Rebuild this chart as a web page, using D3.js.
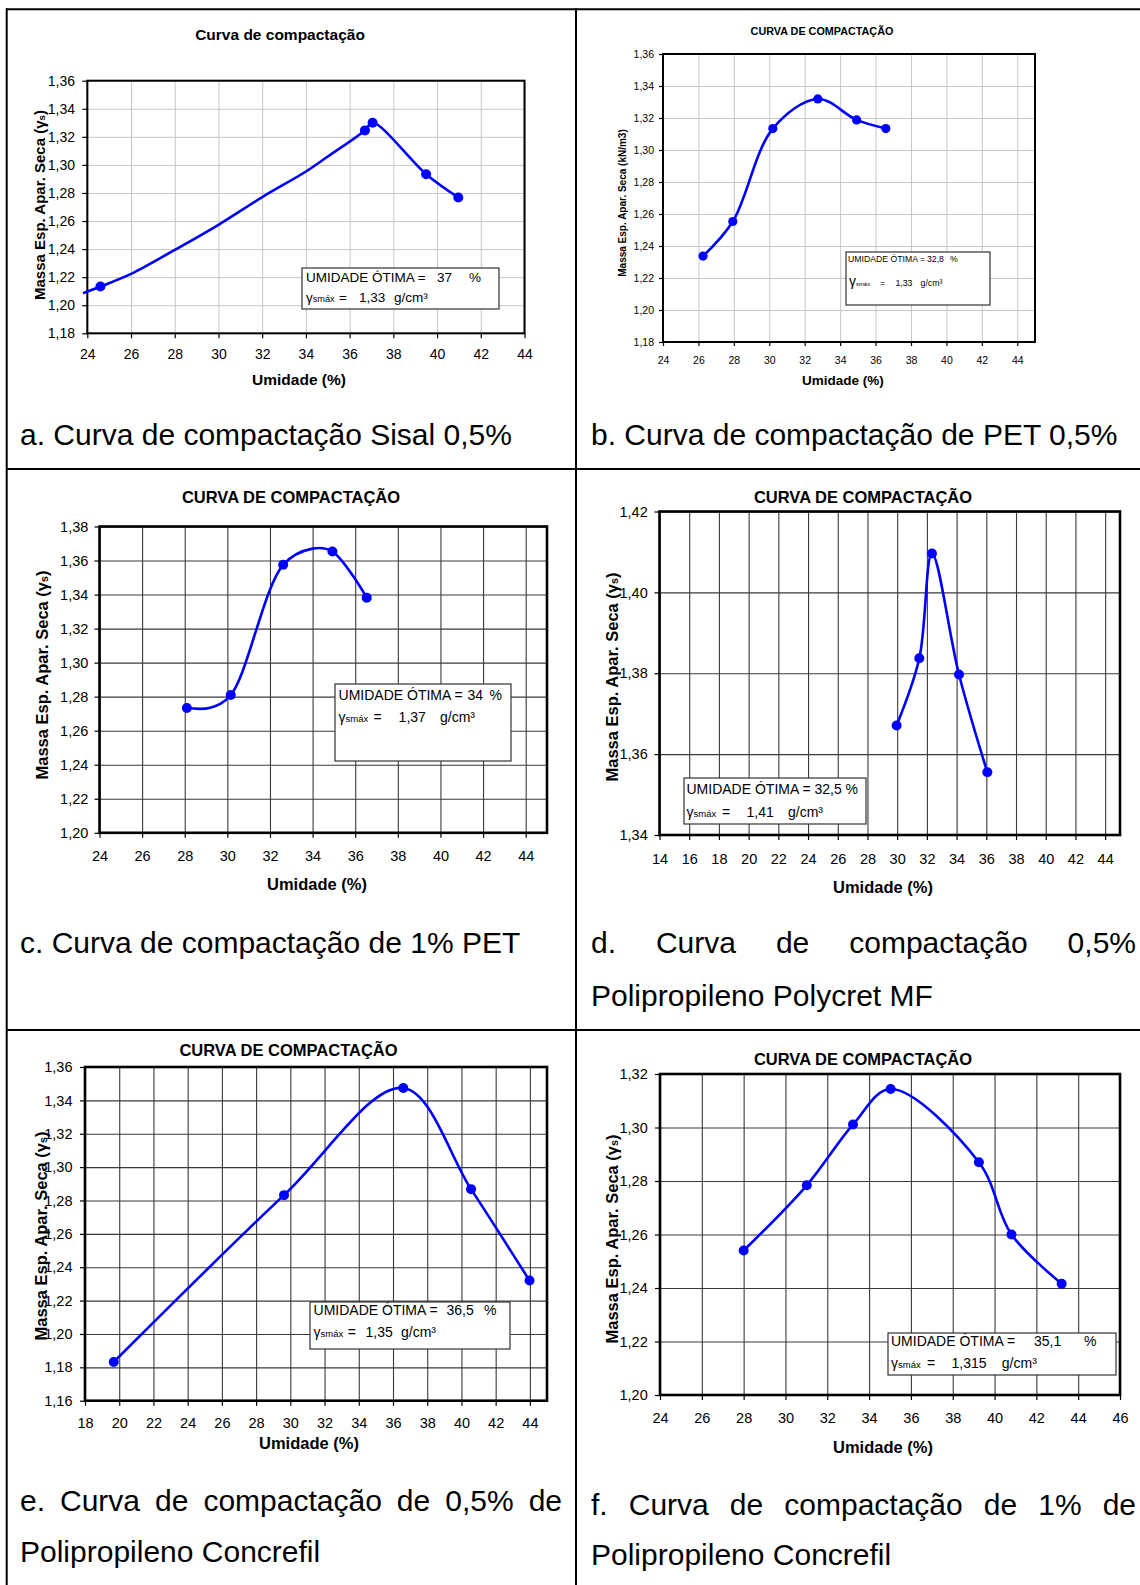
<!DOCTYPE html>
<html><head><meta charset="utf-8">
<script src="https://cdn.jsdelivr.net/npm/d3@7"></script>
<style>
body{margin:0;background:#fff}
svg{display:block}
text{font-family:"Liberation Sans",Arial,Helvetica,sans-serif}
</style>
</head><body>
<svg id="c" width="1140" height="1585"></svg>
<script>
// ---------------- DATA ----------------
// a. Sisal 0,5%
const umidadeA = [24.6, 36.7, 37.05, 39.5, 40.97];
const massaA   = [1.2133, 1.3246, 1.330, 1.2934, 1.2768];
const curvaUmidadeA = [23.8, 24.6, 26, 28, 30, 32, 34, 35, 36.7, 37.05, 39.5, 40.97];
const curvaMassaA   = [1.2085, 1.2133, 1.2223, 1.2394, 1.2573, 1.277, 1.2953, 1.306, 1.3246, 1.330, 1.2934, 1.2768];
// b. PET 0,5%
const umidadeB = [26.26, 27.94, 30.2, 32.74, 34.93, 36.58];
const massaB   = [1.2337, 1.2553, 1.3134, 1.3319, 1.3188, 1.3134];
// c. 1% PET
const umidadeC = [28.1, 30.16, 32.62, 34.93, 36.54];
const massaC   = [1.2733, 1.281, 1.3575, 1.3653, 1.3382];
const curvaUmidadeC = [28.1, 29.2, 30.16, 32.62, 34.0, 34.93, 36.54];
const curvaMassaC   = [1.2733, 1.2735, 1.281, 1.3575, 1.367, 1.3653, 1.3382];
// d. 0,5% Polipropileno Polycret MF
const umidadeD = [29.96, 31.49, 32.34, 34.16, 36.07];
const massaD   = [1.3671, 1.3837, 1.4096, 1.3797, 1.3555];
// e. 0,5% Polipropileno Concrefil
const umidadeE = [19.68, 29.63, 36.6, 40.56, 43.98];
const massaE   = [1.1832, 1.2832, 1.3474, 1.2868, 1.232];
// f. 1% Polipropileno Concrefil
const umidadeF = [28.0, 31.02, 33.23, 35.03, 39.25, 40.81, 43.21];
const massaF   = [1.254, 1.2784, 1.3011, 1.3144, 1.287, 1.26, 1.2416];

// tick labels
const xTicksA = [24, 26, 28, 30, 32, 34, 36, 38, 40, 42, 44];
const yTicksA = [1.18, 1.20, 1.22, 1.24, 1.26, 1.28, 1.30, 1.32, 1.34, 1.36];
const xTicksB = [24, 26, 28, 30, 32, 34, 36, 38, 40, 42, 44];
const yTicksB = [1.18, 1.20, 1.22, 1.24, 1.26, 1.28, 1.30, 1.32, 1.34, 1.36];
const xTicksC = [24, 26, 28, 30, 32, 34, 36, 38, 40, 42, 44];
const yTicksC = [1.20, 1.22, 1.24, 1.26, 1.28, 1.30, 1.32, 1.34, 1.36, 1.38];
const xTicksD = [14, 16, 18, 20, 22, 24, 26, 28, 30, 32, 34, 36, 38, 40, 42, 44];
const yTicksD = [1.34, 1.36, 1.38, 1.40, 1.42];
const xTicksE = [18, 20, 22, 24, 26, 28, 30, 32, 34, 36, 38, 40, 42, 44];
const yTicksE = [1.16, 1.18, 1.20, 1.22, 1.24, 1.26, 1.28, 1.30, 1.32, 1.34, 1.36];
const xTicksF = [24, 26, 28, 30, 32, 34, 36, 38, 40, 42, 44, 46];
const yTicksF = [1.20, 1.22, 1.24, 1.26, 1.28, 1.30, 1.32];

// axis extents (Excel min/max)
const xDomainA = [24, 44], yDomainA = [1.18, 1.36];
const xDomainB = [24, 45], yDomainB = [1.18, 1.36];
const xDomainC = [24, 45], yDomainC = [1.20, 1.38];
const xDomainD = [14, 45], yDomainD = [1.34, 1.42];
const xDomainE = [18, 45], yDomainE = [1.16, 1.36];
const xDomainF = [24, 46], yDomainF = [1.20, 1.32];

// texts
const titulos = ["Curva de compactação", "CURVA DE COMPACTAÇÃO", "CURVA DE COMPACTAÇÃO",
                 "CURVA DE COMPACTAÇÃO", "CURVA DE COMPACTAÇÃO", "CURVA DE COMPACTAÇÃO"];
const rotuloY = ["Massa Esp. Apar. Seca (γs)", "Massa Esp. Apar. Seca (kN/m3)", "Massa Esp. Apar. Seca (γs)",
                 "Massa Esp. Apar. Seca (γs)", "Massa Esp. Apar. Seca (γs)", "Massa Esp. Apar. Seca (γs)"];
const rotuloX = "Umidade (%)";
const umidadeOtima = ["37", "32,8", "34", "32,5", "36,5", "35,1"];
const gamaMax = ["1,33", "1,33", "1,37", "1,41", "1,35", "1,315"];
const legendas = [
  ["a. Curva de compactação Sisal 0,5%"],
  ["b. Curva de compactação de PET 0,5%"],
  ["c. Curva de compactação de 1% PET"],
  ["d. Curva de compactação 0,5%", "Polipropileno Polycret MF"],
  ["e. Curva de compactação de 0,5% de", "Polipropileno Concrefil"],
  ["f. Curva de compactação de 1% de", "Polipropileno Concrefil"]
];

// ---------------- LAYOUT ----------------
const BLUE = "#0000ff";
const svg = d3.select("#c");
svg.append("rect").attr("width", 1140).attr("height", 1585).attr("fill", "#fff");

const panels = [
  {id:"a", ux:umidadeA, my:massaA, cx:curvaUmidadeA, cy:curvaMassaA, xt:xTicksA, yt:yTicksA, xd:xDomainA, yd:yDomainA,
   x0:87.3, x1:524.5, y0:80.7, y1:333.3, grid:"#c6c6c6", gw:1, frame:2, tickFs:14, tick:5,
   xLabC:354, yLabR:75, titleFs:15.5, titleX:280, titleY:35, axFs:15.5, uX:299, uY:380, yFs:15, yX:40, yY:205, r:5,
   leg:{box:[302,268,197,41], fs:13.5, l1:282, lab:306, val:437, pct:469, l2:302, g:306, gfs:13.5, eq:339, gv:359, un:394}},
  {id:"b", ux:umidadeB, my:massaB, xt:xTicksB, yt:yTicksB, xd:xDomainB, yd:yDomainB,
   x0:663, x1:1035, y0:54, y1:342, grid:"#c6c6c6", gw:1, frame:2, tickFs:10.5, tick:4,
   xLabC:360, yLabR:654, titleFs:10.8, titleX:822, titleY:31.5, axFs:13.5, uX:843, uY:380, yFs:10, yX:622, yY:203, r:4.6,
   leg:{box:[846,252,144,53], fs:8.7, l1:261.5, lab:848, val:927, pct:950, l2:286, g:849, gfs:14, eq:880, gv:895.5, un:920.6}},
  {id:"c", ux:umidadeC, my:massaC, cx:curvaUmidadeC, cy:curvaMassaC, xt:xTicksC, yt:yTicksC, xd:xDomainC, yd:yDomainC,
   x0:99.5, x1:547, y0:526.5, y1:832.8, grid:"#3a3a3a", gw:1.1, frame:2.6, tickFs:14.5, tick:5,
   xLabC:856, yLabR:88.3, titleFs:16.5, titleX:291, titleY:497, axFs:16.5, uX:317, uY:884, yFs:16.5, yX:42, yY:675, r:5,
   leg:{box:[335,684,176,77], fs:14, l1:700, lab:338.6, val:467.4, pct:489.5, l2:722, g:338.6, gfs:14, eq:373.6, gv:398.6, un:440}},
  {id:"d", ux:umidadeD, my:massaD, xt:xTicksD, yt:yTicksD, xd:xDomainD, yd:yDomainD,
   x0:659.5, x1:1120, y0:511.5, y1:835, grid:"#3a3a3a", gw:1.1, frame:2.6, tickFs:14.5, tick:5,
   xLabC:858.5, yLabR:647.7, titleFs:16.5, titleX:863, titleY:497, axFs:16.5, uX:883, uY:887, yFs:16.5, yX:612, yY:677, r:5,
   leg:{box:[684,778,182,46], fs:14, l1:794, lab:686.5, val:null, pct:null, l2:817, g:686.5, gfs:14, eq:722, gv:746.5, un:788}},
  {id:"e", ux:umidadeE, my:massaE, xt:xTicksE, yt:yTicksE, xd:xDomainE, yd:yDomainE,
   x0:85, x1:547, y0:1067, y1:1400.7, grid:"#3a3a3a", gw:1.1, frame:2.6, tickFs:14.5, tick:5,
   xLabC:1423, yLabR:72.5, titleFs:16.5, titleX:288.5, titleY:1050, axFs:16.5, uX:309, uY:1443, yFs:16.5, yX:41.6, yY:1236, r:5,
   leg:{box:[310,1302,200,47], fs:14, l1:1315, lab:313.6, val:446.5, pct:484, l2:1337, g:313.6, gfs:14, eq:347.8, gv:365.5, un:401}},
  {id:"f", ux:umidadeF, my:massaF, xt:xTicksF, yt:yTicksF, xd:xDomainF, yd:yDomainF,
   x0:660, x1:1120, y0:1074, y1:1395, grid:"#3a3a3a", gw:1.1, frame:2.6, tickFs:14.5, tick:5,
   xLabC:1418, yLabR:647.7, titleFs:16.5, titleX:863, titleY:1059, axFs:16.5, uX:883, uY:1447, yFs:16.5, yX:612, yY:1239, r:5,
   leg:{box:[888,1333,228,42], fs:14, l1:1346, lab:891, val:1034, pct:1084, l2:1368, g:891, gfs:14, eq:927, gv:951.5, un:1001.8}}
];

const fmtY = d => d.toFixed(2).replace(".", ",");

function txt(g, x, y, s, fs, opts = {}) {
  const t = g.append("text").attr("x", x).attr("y", y).attr("font-size", fs).attr("fill", "#000").text(s);
  if (opts.bold) t.attr("font-weight", "bold");
  if (opts.anchor) t.attr("text-anchor", opts.anchor);
  if (opts.dy) t.attr("dy", opts.dy);
  if (opts.ls) t.attr("letter-spacing", opts.ls);
  return t;
}

panels.forEach((p, i) => {
  const g = svg.append("g").attr("class", "panel-" + p.id);
  const x = d3.scaleLinear().domain(p.xd).range([p.x0, p.x1]);
  const y = d3.scaleLinear().domain(p.yd).range([p.y1, p.y0]);
  const H = p.y1 - p.y0, W = p.x1 - p.x0;

  g.append("rect").attr("x", p.x0).attr("y", p.y0).attr("width", W).attr("height", H).attr("fill", "#fff");

  // gridlines
  g.append("g").attr("transform", `translate(0,${p.y1})`)
    .call(d3.axisBottom(x).tickValues(p.xt).tickSize(-H).tickFormat(""))
    .call(a => { a.select(".domain").remove(); a.selectAll("line").attr("stroke", p.grid).attr("stroke-width", p.gw); });
  g.append("g").attr("transform", `translate(${p.x0},0)`)
    .call(d3.axisLeft(y).tickValues(p.yt).tickSize(-W).tickFormat(""))
    .call(a => { a.select(".domain").remove(); a.selectAll("line").attr("stroke", p.grid).attr("stroke-width", p.gw); });

  // frame
  g.append("rect").attr("x", p.x0).attr("y", p.y0).attr("width", W).attr("height", H)
    .attr("fill", "none").attr("stroke", "#000").attr("stroke-width", p.frame);

  // axes
  const padX = p.xLabC - p.y1 - p.tick - 0.35 * p.tickFs;
  g.append("g").attr("transform", `translate(0,${p.y1})`)
    .call(d3.axisBottom(x).tickValues(p.xt).tickSize(p.tick).tickPadding(padX).tickFormat(d => String(d)))
    .call(a => {
      a.select(".domain").remove();
      a.selectAll("line").attr("stroke", "#000").attr("stroke-width", 1.2);
      a.selectAll("text").attr("font-size", p.tickFs).attr("fill", "#000");
    });
  const padY = p.x0 - p.yLabR - p.tick;
  g.append("g").attr("transform", `translate(${p.x0},0)`)
    .call(d3.axisLeft(y).tickValues(p.yt).tickSize(p.tick).tickPadding(padY).tickFormat(fmtY))
    .call(a => {
      a.select(".domain").remove();
      a.selectAll("line").attr("stroke", "#000").attr("stroke-width", 1.2);
      a.selectAll("text").attr("font-size", p.tickFs).attr("fill", "#000");
    });
  g.selectAll("g").attr("font-family", null);

  // titles
  txt(g, p.titleX, p.titleY, titulos[i], p.titleFs, {bold: true, anchor: "middle", dy: "0.35em"});
  txt(g, p.uX, p.uY, rotuloX, p.axFs, {bold: true, anchor: "middle", dy: "0.35em"});
  const yl = g.append("text").attr("transform", `translate(${p.yX},${p.yY}) rotate(-90)`)
    .attr("text-anchor", "middle").attr("dy", "0.35em").attr("font-size", p.yFs).attr("font-weight", "bold");
  const lbl = rotuloY[i];
  if (lbl.endsWith("(γs)")) {
    yl.append("tspan").text(lbl.slice(0, -3));
    yl.append("tspan").text("γ");
    yl.append("tspan").text("s").attr("font-size", p.yFs * 0.65);
    yl.append("tspan").text(")");
  } else {
    yl.text(lbl);
  }

  // line
  const lx = p.cx || p.ux, ly = p.cy || p.my;
  const pts = lx.map((v, k) => [v, ly[k]]);
  g.append("path").datum(pts)
    .attr("d", d3.line().x(d => x(d[0])).y(d => y(d[1])).curve(d3.curveCatmullRom.alpha(0.5)))
    .attr("fill", "none").attr("stroke", BLUE).attr("stroke-width", 2.6).attr("stroke-linejoin", "round");
  // markers
  g.selectAll("circle.pt").data(p.ux.map((v, k) => [v, p.my[k]])).join("circle")
    .attr("class", "pt").attr("cx", d => x(d[0])).attr("cy", d => y(d[1])).attr("r", p.r).attr("fill", BLUE);

  // legend box
  const L = p.leg;
  g.append("rect").attr("x", L.box[0]).attr("y", L.box[1]).attr("width", L.box[2]).attr("height", L.box[3])
    .attr("fill", "#fff").attr("stroke", "#333").attr("stroke-width", 1.2);
  if (L.val === null) {
    txt(g, L.lab, L.l1, "UMIDADE ÓTIMA = " + umidadeOtima[i] + " %", L.fs);
  } else {
    txt(g, L.lab, L.l1, "UMIDADE ÓTIMA =", L.fs);
    txt(g, L.val, L.l1, umidadeOtima[i], L.fs);
    txt(g, L.pct, L.l1, "%", L.fs);
  }
  const gt = g.append("text").attr("x", L.g).attr("y", L.l2).attr("font-size", L.gfs);
  gt.append("tspan").text("γ");
  gt.append("tspan").text("smáx").attr("font-size", L.fs * 0.68);
  txt(g, L.eq, L.l2, "=", L.fs);
  txt(g, L.gv, L.l2, gamaMax[i], L.fs);
  txt(g, L.un, L.l2, "g/cm³", L.fs);
});

// ---------------- TABLE ----------------
const tbl = svg.append("g").attr("stroke", "#000").attr("stroke-width", 2);
tbl.append("line").attr("x1", 6).attr("x2", 1140).attr("y1", 9.3).attr("y2", 9.3);
tbl.append("line").attr("x1", 6.7).attr("x2", 6.7).attr("y1", 8.3).attr("y2", 1585);
tbl.append("line").attr("x1", 576).attr("x2", 576).attr("y1", 8.3).attr("y2", 1585);
tbl.append("line").attr("x1", 6).attr("x2", 1140).attr("y1", 469).attr("y2", 469);
tbl.append("line").attr("x1", 6).attr("x2", 1140).attr("y1", 1030).attr("y2", 1030);

// ---------------- CAPTIONS ----------------
const CFS = 30;
const capG = svg.append("g");
function capLine(s, x0, y, x1) {
  if (x1 === undefined) { txt(capG, x0, y, s, CFS); return; }
  const words = s.split(" ");
  const nodes = words.map(w => txt(capG, 0, y, w, CFS));
  const widths = nodes.map(n => n.node().getComputedTextLength());
  const total = d3.sum(widths);
  const gap = (x1 - x0 - total) / (words.length - 1);
  let cx = x0;
  nodes.forEach((n, k) => { n.attr("x", cx); cx += widths[k] + gap; });
}
const capPos = [
  [[20, 445]],
  [[591, 445]],
  [[20, 953]],
  [[591, 953, 1136], [591, 1006]],
  [[20, 1511, 562], [20, 1562]],
  [[591, 1515, 1136], [591, 1565]]
];
legendas.forEach((lines, i) => {
  lines.forEach((s, k) => { const c = capPos[i][k]; capLine(s, c[0], c[1], c[2]); });
});
</script>
</body></html>
